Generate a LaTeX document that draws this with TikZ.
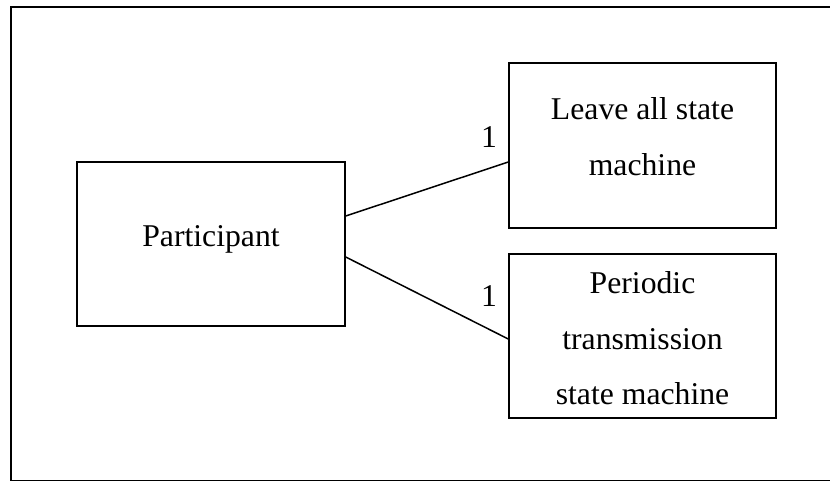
\documentclass[tikz,border=0pt]{standalone}
\usepackage{fontspec}
\setmainfont{Liberation Serif}
\begin{document}
\begin{tikzpicture}[x=1pt,y=-1pt,
  block/.style={draw=black,line width=1.5pt,minimum width=#1,inner sep=0pt},
  lbl/.style={anchor=base,inner sep=0pt,font=\fontsize{31.7}{56}\selectfont},
  link/.style={draw=black,line width=1.5pt}]
\useasboundingbox (0,0) rectangle (830,480);
% outer frame
\draw[line width=2pt] (11,7) rectangle (840,480.5);
% boxes
\node[block=268pt,minimum height=164pt] (part) at (211,244) {};
\node[block=267pt,minimum height=165pt] (leave) at (642.5,145.5) {};
\node[block=267pt,minimum height=164pt] (peri) at (642.5,336) {};
% box texts
\node[lbl] (tpart) at (211,246) {Participant};
\node[lbl] (tleave1) at (642.5,119) {Leave all state};
\node[lbl] (tleave2) at (642.5,175) {machine};
\node[lbl] (tperi1) at (642.5,293) {Periodic};
\node[lbl] (tperi2) at (642.5,349) {transmission};
\node[lbl] (tperi3) at (642.5,404) {state machine};
% connectors
\draw[link] ([yshift=28pt]part.east) -- ([yshift=-16.5pt]leave.west);
\draw[link] ([yshift=-13pt]part.east) -- ([yshift=-3pt]peri.west);
% multiplicities
\node[lbl] (m1) at (489,147) {1};
\node[lbl] (m2) at (489,306) {1};
\end{tikzpicture}
\end{document}
